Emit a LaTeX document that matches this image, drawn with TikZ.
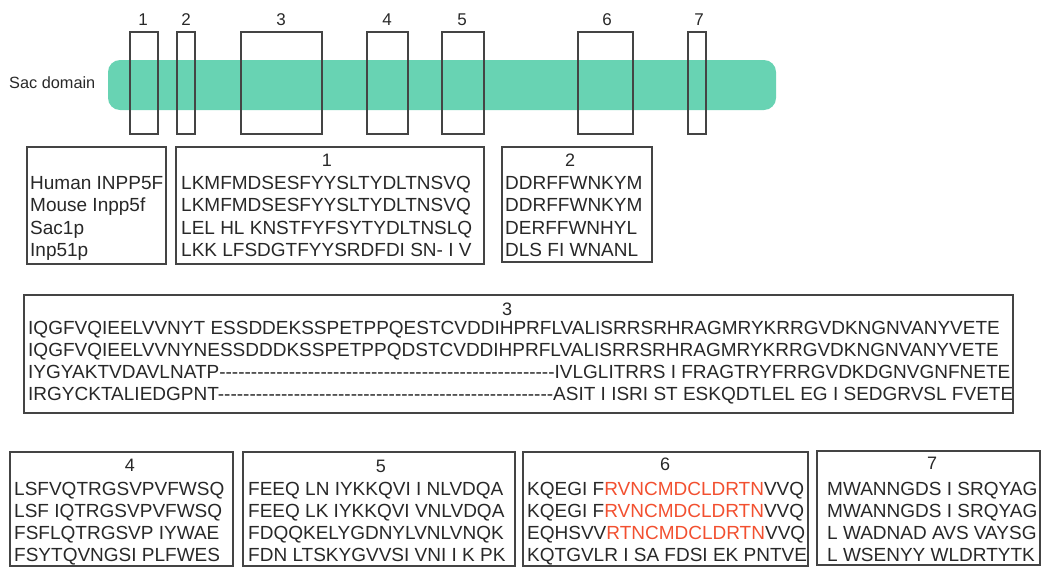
\documentclass[tikz,border=0pt]{standalone}
\usepackage{fontspec}
\setmainfont{Liberation Sans}
\usepackage{xcolor}
\definecolor{bargreen}{RGB}{104,211,179}
\definecolor{boxgray}{RGB}{68,68,68}
\definecolor{txtgray}{RGB}{40,40,40}
\definecolor{hired}{RGB}{242,80,48}
\newcommand{\gapdashes}[1]{\foreach \k in {1,...,#1}{-}}
\begin{document}
\begin{tikzpicture}[x=1pt,y=-1pt,
  seq/.style={anchor=west, inner sep=0pt, text height=13.5pt, text depth=0pt, font=\fontsize{19}{22}\selectfont, text=txtgray},
  hdr/.style={anchor=center, inner sep=0pt, text height=13pt, text depth=0pt, font=\fontsize{18}{22}\selectfont, text=txtgray},
  toplbl/.style={anchor=center, inner sep=0pt, text height=12pt, text depth=0pt, font=\fontsize{17}{20}\selectfont, text=txtgray},
  topbox/.style={draw=boxgray, line width=1.6pt},
  seqbox/.style={draw=boxgray, line width=2pt}]
\useasboundingbox (0,0) rectangle (1042,568);
% Sac domain bar
\fill[bargreen, rounded corners=12pt] (108,60) rectangle (776,110);
\node[anchor=west, inner sep=0pt, text height=11.5pt, text depth=0pt, font=\fontsize{16.3}{19}\selectfont, text=txtgray] (sac) at (9,83) {Sac domain};
% top region boxes
\draw[topbox] (130,32) rectangle (158,134);
\draw[topbox] (177,32) rectangle (195,134);
\draw[topbox] (241,32) rectangle (322,134);
\draw[topbox] (367,32) rectangle (408,134);
\draw[topbox] (442,32) rectangle (484,134);
\draw[topbox] (578,32) rectangle (633,134);
\draw[topbox] (688,32) rectangle (706,134);
\node[toplbl] (t1) at (143,19) {1};
\node[toplbl] (t2) at (186,19) {2};
\node[toplbl] (t3) at (281,19) {3};
\node[toplbl] (t4) at (387,19) {4};
\node[toplbl] (t5) at (462,19) {5};
\node[toplbl] (t6) at (607,19) {6};
\node[toplbl] (t7) at (699,19) {7};
% species box
\draw[seqbox] (27,147) rectangle (166,264);
\node[seq] (sp1) at (30,183) {Human INPP5F};
\node[seq] (sp2) at (30,205) {Mouse Inpp5f};
\node[seq] (sp3) at (30,228) {Sac1p};
\node[seq] (sp4) at (30,250) {Inp51p};
% box 1
\draw[seqbox] (176,147) rectangle (484,264);
\node[hdr] (h1) at (327,160) {1};
\node[seq] (a1) at (181,183) {LKMFMDSESFYYSLTYDLTNSVQ};
\node[seq] (a2) at (181,205) {LKMFMDSESFYYSLTYDLTNSVQ};
\node[seq] (a3) at (181,228) {LEL HL KNSTFYFSYTYDLTNSLQ};
\node[seq] (a4) at (181,250) {LKK LFSDGTFYYSRDFDI SN- I V};
% box 2
\draw[seqbox] (502,147) rectangle (652,262);
\node[hdr] (h2) at (570,160) {2};
\node[seq] (b1) at (505,183) {DDRFFWNKYM};
\node[seq] (b2) at (505,205) {DDRFFWNKYM};
\node[seq] (b3) at (505,228) {DERFFWNHYL};
\node[seq] (b4) at (505,250) {DLS FI WNANL};
% box 3
\draw[seqbox] (24,295) rectangle (1013,413);
\node[hdr] (h3) at (507,309) {3};
\node[seq] (c1) at (28,328) {IQGFVQIEELVVNYT ESSDDEKSSPETPPQESTCVDDIHPRFLVALISRRSRHRAGMRYKRRGVDKNGNVANYVETE};
\node[seq] (c2) at (28,350) {IQGFVQIEELVVNYNESSDDDKSSPETPPQDSTCVDDIHPRFLVALISRRSRHRAGMRYKRRGVDKNGNVANYVETE};
\node[seq] (c3) at (28,372) {IYGYAKTVDAVLNATP\gapdashes{53}IVLGLITRRS I FRAGTRYFRRGVDKDGNVGNFNETE};
\node[seq] (c4) at (28,394) {IRGYCKTALIEDGPNT\gapdashes{53}ASIT I ISRI ST ESKQDTLEL EG I SEDGRVSL FVETE};
% box 4
\draw[seqbox] (10,452) rectangle (233,566);
\node[hdr] (h4) at (130,465) {4};
\node[seq] (d1) at (14,489) {LSFVQTRGSVPVFWSQ};
\node[seq] (d2) at (14,511) {LSF IQTRGSVPVFWSQ};
\node[seq] (d3) at (14,533) {FSFLQTRGSVP IYWAE};
\node[seq] (d4) at (14,555) {FSYTQVNGSI PLFWES};
% box 5
\draw[seqbox] (243,452) rectangle (515,566);
\node[hdr] (h5) at (381,466) {5};
\node[seq] (e1) at (248,489) {FEEQ LN IYKKQVI I NLVDQA};
\node[seq] (e2) at (248,511) {FEEQ LK IYKKQVI VNLVDQA};
\node[seq] (e3) at (248,533) {FDQQKELYGDNYLVNLVNQK};
\node[seq] (e4) at (248,555) {FDN LTSKYGVVSI VNI I K PK};
% box 6
\draw[seqbox] (523,452) rectangle (808,566);
\node[hdr] (h6) at (665,464) {6};
\node[seq] (f1) at (527,489) {KQEGI F\textcolor{hired}{RVNCMDCLDRTN}VVQ};
\node[seq] (f2) at (527,511) {KQEGI F\textcolor{hired}{RVNCMDCLDRTN}VVQ};
\node[seq] (f3) at (527,533) {EQHSVV\textcolor{hired}{RTNCMDCLDRTN}VVQ};
\node[seq] (f4) at (527,555) {KQTGVLR I SA FDSI EK PNTVE};
% box 7
\draw[seqbox] (817,451) rectangle (1040,565);
\node[hdr] (h7) at (932,463) {7};
\node[seq] (g1) at (827,489) {MWANNGDS I SRQYAG};
\node[seq] (g2) at (827,511) {MWANNGDS I SRQYAG};
\node[seq] (g3) at (827,533) {L WADNAD AVS VAYSG};
\node[seq] (g4) at (827,555) {L WSENYY WLDRTYTK};
\end{tikzpicture}
\end{document}
